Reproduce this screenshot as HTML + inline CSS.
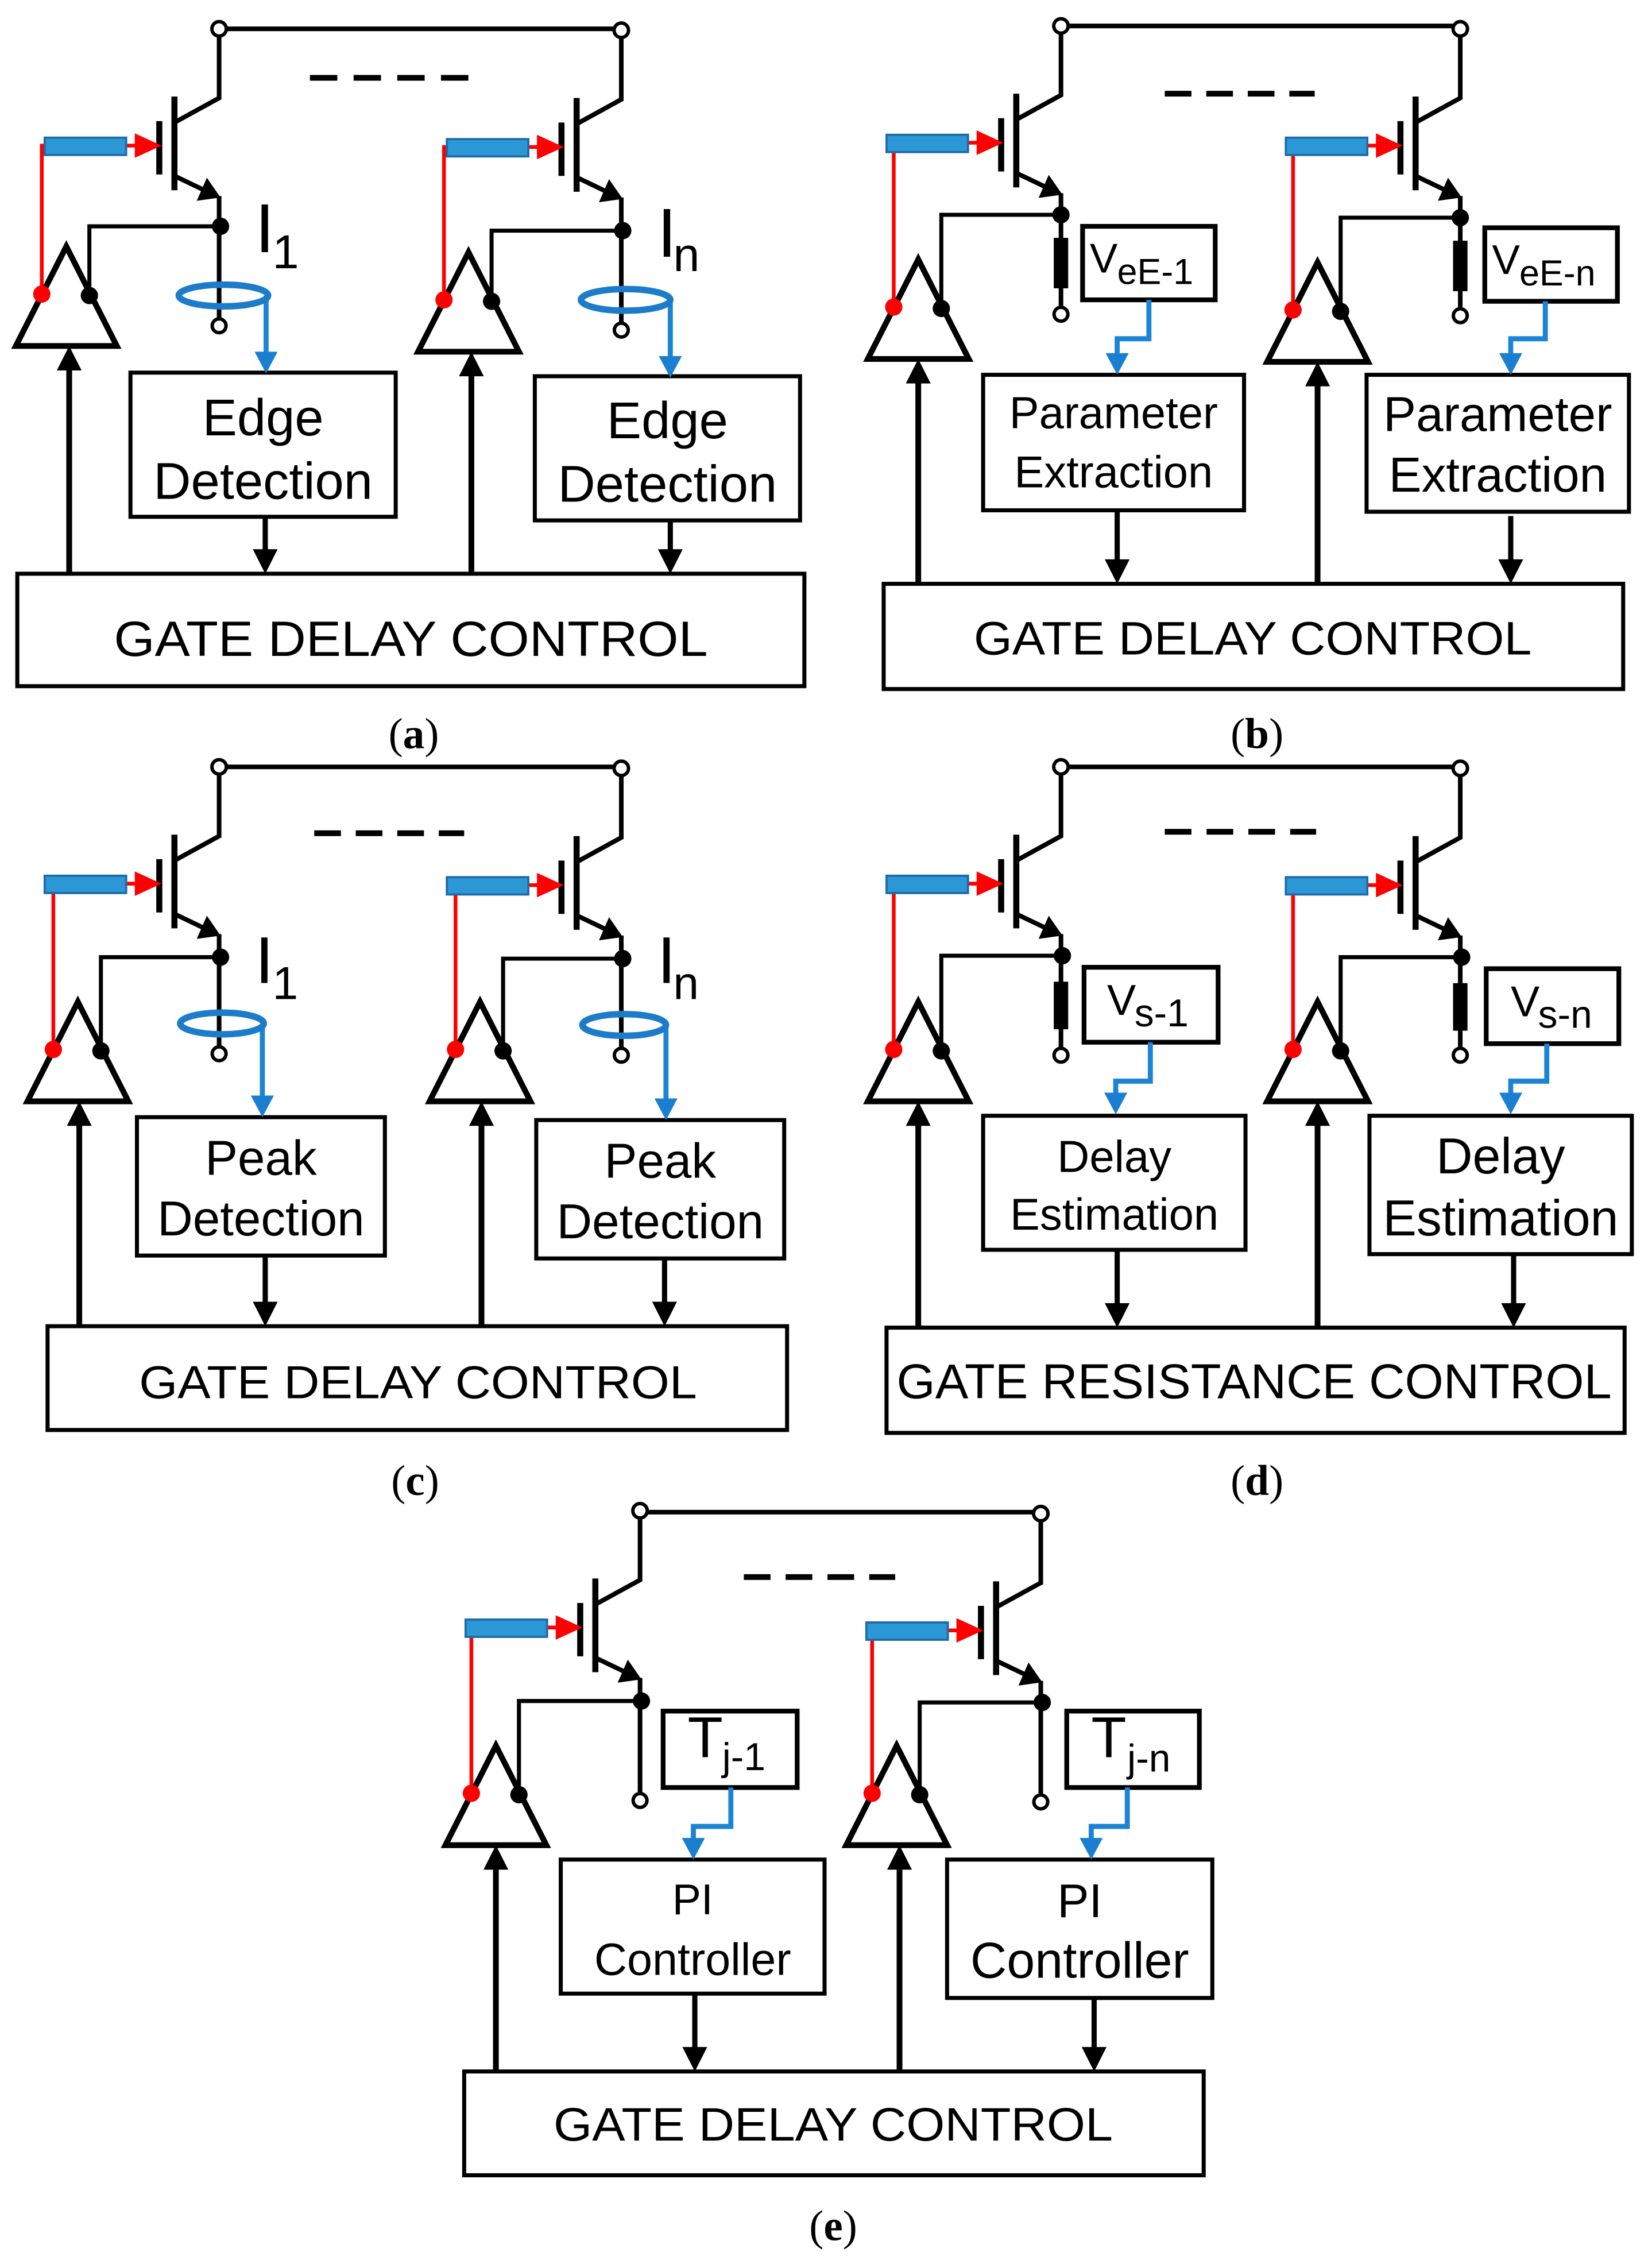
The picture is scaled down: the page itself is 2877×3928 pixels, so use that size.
<!DOCTYPE html>
<html><head><meta charset="utf-8"><style>
html,body{margin:0;padding:0;background:#fff;}
svg{display:block;}
text{font-family:"Liberation Sans",Arial,sans-serif;fill:#000;}
.cap{font-family:"Liberation Serif","Times New Roman",serif;font-size:30px;}
</style></head><body>
<svg width="2877" height="3928" viewBox="0 0 1146 1565" preserveAspectRatio="none" xmlns="http://www.w3.org/2000/svg">
<defs>
<g id="tr">
 <path d="M0,5 V48 L-31,65" fill="none" stroke="#000" stroke-width="3.2"/>
 <line x1="-31" y1="47" x2="-31" y2="112" stroke="#000" stroke-width="4.2"/>
 <line x1="-41.5" y1="64" x2="-41.5" y2="101" stroke="#000" stroke-width="4.2"/>
 <path d="M-31,102 L-8,113" stroke="#000" stroke-width="3.2"/>
 <polygon points="1,117 -8.5,103.3 -15.5,119.3" fill="#000"/>
 <line x1="-66" y1="81" x2="-56" y2="81" stroke="#f00" stroke-width="2.6"/>
 <polygon points="-40,81 -58.5,72.5 -58.5,89.5" fill="#f00"/>
 <rect x="-121" y="75.5" width="56.5" height="12" fill="#2b98d5" stroke="#1e6aa8" stroke-width="1.5"/>
 <circle cx="0" cy="0" r="5" fill="#fff" stroke="#000" stroke-width="2.4"/>
</g>
<g id="tri">
 <polygon points="0,0 -35,69 35,69" fill="#fff" stroke="#000" stroke-width="4"/>
 <circle cx="-17" cy="33" r="6" fill="#f00"/>
 <circle cx="16" cy="34" r="6" fill="#000"/>
</g>
<path id="ad" d="M0,0 L-8.6,-17 L8.6,-17Z" fill="#000"/>
<path id="au" d="M0,0 L-8.6,17 L8.6,17Z" fill="#000"/>
<path id="bd" d="M0,0 L-8,-15 L8,-15Z" fill="#1a7fd0"/>
<circle id="oc" r="4.8" fill="#fff" stroke="#000" stroke-width="2.4"/>
<circle id="nd" r="6" fill="#000"/>
</defs>

<g fill="none" stroke-linecap="butt">
<path d="M152,20 H431" stroke="#000" stroke-width="3.2"/>
<path d="M215,54 H325" stroke="#000" stroke-width="4" stroke-dasharray="19 11.3"/>
<path d="M152,136 V221" stroke="#000" stroke-width="3.2"/>
<path d="M62,205 V157 H152" stroke="#000" stroke-width="2.8"/>
<path d="M29,204 V101 H31" stroke="#f00" stroke-width="2.6"/>
<path d="M184.6,205 V246" stroke="#1c84d4" stroke-width="3.5"/>
<rect x="90.5" y="258.5" width="184" height="100" stroke="#000" stroke-width="2.8"/>
<path d="M184,358 V384" stroke="#000" stroke-width="3.6"/>
<path d="M48,398 V254" stroke="#000" stroke-width="4"/>
<path d="M431,137 V224" stroke="#000" stroke-width="3.2"/>
<path d="M341,208 V160 H431" stroke="#000" stroke-width="2.8"/>
<path d="M308,207 V102 H310" stroke="#f00" stroke-width="2.6"/>
<path d="M465,208 V249" stroke="#1c84d4" stroke-width="3.5"/>
<rect x="371" y="261" width="184" height="100" stroke="#000" stroke-width="2.8"/>
<path d="M465,361 V384" stroke="#000" stroke-width="3.6"/>
<path d="M327,398 V258" stroke="#000" stroke-width="4"/>
<rect x="12" y="398" width="546" height="78" stroke="#000" stroke-width="2.8"/>

<path d="M736,18 H1013" stroke="#000" stroke-width="3.2"/>
<path d="M808,65 H912" stroke="#000" stroke-width="4" stroke-dasharray="18.5 10.3"/>
<path d="M736,134 V213" stroke="#000" stroke-width="3.2"/>
<path d="M653,214 V149 H736" stroke="#000" stroke-width="2.8"/>
<path d="M620,213 V99 H617" stroke="#f00" stroke-width="2.6"/>
<rect x="751" y="157" width="92" height="51" stroke="#000" stroke-width="3.3"/>
<path d="M797,208 V235 H775 V247" stroke="#1c84d4" stroke-width="3.5"/>
<rect x="682" y="260" width="181" height="94" stroke="#000" stroke-width="2.8"/>
<path d="M775,354 V391" stroke="#000" stroke-width="3.6"/>
<path d="M637,405 V263" stroke="#000" stroke-width="4"/>
<path d="M1013,136 V214" stroke="#000" stroke-width="3.2"/>
<path d="M930,216 V151 H1013" stroke="#000" stroke-width="2.8"/>
<path d="M897,215 V101 H892" stroke="#f00" stroke-width="2.6"/>
<rect x="1030" y="158" width="92" height="51" stroke="#000" stroke-width="3.3"/>
<path d="M1072,209 V235 H1048 V247" stroke="#1c84d4" stroke-width="3.5"/>
<rect x="948" y="260" width="182" height="95" stroke="#000" stroke-width="2.8"/>
<path d="M1048,358 V391" stroke="#000" stroke-width="3.6"/>
<path d="M914,405 V265" stroke="#000" stroke-width="4"/>
<rect x="613" y="405" width="513" height="73" stroke="#000" stroke-width="2.8"/>

<path d="M152,532 H431" stroke="#000" stroke-width="3.2"/>
<path d="M218,578 H322" stroke="#000" stroke-width="4" stroke-dasharray="18.5 10.3"/>
<path d="M152,648 V726" stroke="#000" stroke-width="3.2"/>
<path d="M70,729 V664 H152" stroke="#000" stroke-width="2.8"/>
<path d="M37,728 V613 H31" stroke="#f00" stroke-width="2.6"/>
<path d="M182,711 V761" stroke="#1c84d4" stroke-width="3.5"/>
<rect x="95" y="775" width="172" height="96" stroke="#000" stroke-width="2.8"/>
<path d="M184,871 V906" stroke="#000" stroke-width="3.6"/>
<path d="M55,920 V780" stroke="#000" stroke-width="4"/>
<path d="M431,649 V727" stroke="#000" stroke-width="3.2"/>
<path d="M349,729 V665 H431" stroke="#000" stroke-width="2.8"/>
<path d="M316,728 V614 H310" stroke="#f00" stroke-width="2.6"/>
<path d="M462,712 V763" stroke="#1c84d4" stroke-width="3.5"/>
<rect x="372" y="777" width="172" height="96" stroke="#000" stroke-width="2.8"/>
<path d="M461,873 V906" stroke="#000" stroke-width="3.6"/>
<path d="M334,920 V780" stroke="#000" stroke-width="4"/>
<rect x="33" y="920" width="513" height="72" stroke="#000" stroke-width="2.8"/>

<path d="M736,532 H1013" stroke="#000" stroke-width="3.2"/>
<path d="M808,577 H913" stroke="#000" stroke-width="4" stroke-dasharray="18.5 10.5"/>
<path d="M736,648 V727" stroke="#000" stroke-width="3.2"/>
<path d="M653,729 V663 H736" stroke="#000" stroke-width="2.8"/>
<path d="M620,728 V613 H617" stroke="#f00" stroke-width="2.6"/>
<rect x="752" y="671" width="93" height="52" stroke="#000" stroke-width="3.3"/>
<path d="M798,723 V750 H774 V760" stroke="#1c84d4" stroke-width="3.5"/>
<rect x="682" y="774" width="182" height="93" stroke="#000" stroke-width="2.8"/>
<path d="M775,867 V907" stroke="#000" stroke-width="3.6"/>
<path d="M637,921 V780" stroke="#000" stroke-width="4"/>
<path d="M1013,649 V727" stroke="#000" stroke-width="3.2"/>
<path d="M930,729 V664 H1013" stroke="#000" stroke-width="2.8"/>
<path d="M897,728 V614 H892" stroke="#f00" stroke-width="2.6"/>
<rect x="1031" y="672" width="92" height="52" stroke="#000" stroke-width="3.3"/>
<path d="M1073,724 V750 H1048 V760" stroke="#1c84d4" stroke-width="3.5"/>
<rect x="950" y="774" width="182" height="96" stroke="#000" stroke-width="2.8"/>
<path d="M1050,870 V907" stroke="#000" stroke-width="3.6"/>
<path d="M914,921 V780" stroke="#000" stroke-width="4"/>
<rect x="615" y="921" width="512" height="73" stroke="#000" stroke-width="2.8"/>

<path d="M444,1049 H722" stroke="#000" stroke-width="3.2"/>
<path d="M516,1094 H621" stroke="#000" stroke-width="4" stroke-dasharray="18.5 10.5"/>
<path d="M444,1164 V1244" stroke="#000" stroke-width="3.2"/>
<path d="M360,1245 V1180 H444" stroke="#000" stroke-width="2.8"/>
<path d="M327,1244 V1129 H323" stroke="#f00" stroke-width="2.6"/>
<rect x="460" y="1187" width="93" height="53" stroke="#000" stroke-width="3.3"/>
<path d="M507,1240 V1267 H481 V1277" stroke="#1c84d4" stroke-width="3.5"/>
<rect x="389" y="1290" width="183" height="93" stroke="#000" stroke-width="2.8"/>
<path d="M482,1383 V1423" stroke="#000" stroke-width="3.6"/>
<path d="M344,1437 V1297" stroke="#000" stroke-width="4"/>
<path d="M722,1166 V1245" stroke="#000" stroke-width="3.2"/>
<path d="M638,1245 V1181 H722" stroke="#000" stroke-width="2.8"/>
<path d="M605,1244 V1131 H601" stroke="#f00" stroke-width="2.6"/>
<rect x="740" y="1187" width="92" height="53" stroke="#000" stroke-width="3.3"/>
<path d="M782,1240 V1267 H757 V1277" stroke="#1c84d4" stroke-width="3.5"/>
<rect x="657" y="1290" width="184" height="96" stroke="#000" stroke-width="2.8"/>
<path d="M759,1386 V1423" stroke="#000" stroke-width="3.6"/>
<path d="M624,1437 V1297" stroke="#000" stroke-width="4"/>
<rect x="322" y="1437" width="513" height="72" stroke="#000" stroke-width="2.8"/>
</g>

<use href="#tr" x="152" y="20"/><use href="#tr" x="431" y="21"/>
<use href="#tr" x="736" y="18"/><use href="#tr" x="1013" y="20"/>
<use href="#tr" x="152" y="532"/><use href="#tr" x="431" y="533"/>
<use href="#tr" x="736" y="532"/><use href="#tr" x="1013" y="533"/>
<use href="#tr" x="444" y="1048"/><use href="#tr" x="722" y="1050"/>

<use href="#tri" x="46" y="171"/><use href="#tri" x="325" y="175"/>
<use href="#tri" x="637" y="180"/><use href="#tri" x="914" y="182"/>
<use href="#tri" x="54" y="695"/><use href="#tri" x="333" y="695"/>
<use href="#tri" x="637" y="695"/><use href="#tri" x="914" y="695"/>
<use href="#tri" x="344" y="1211"/><use href="#tri" x="622" y="1211"/>

<use href="#nd" x="153" y="157"/><use href="#oc" x="152" y="226"/>
<use href="#nd" x="432" y="160"/><use href="#oc" x="431" y="229"/>
<use href="#nd" x="736" y="149"/><use href="#oc" x="736" y="218"/>
<use href="#nd" x="1013" y="151"/><use href="#oc" x="1013" y="219"/>
<use href="#nd" x="153" y="664"/><use href="#oc" x="152" y="731"/>
<use href="#nd" x="432" y="665"/><use href="#oc" x="431" y="732"/>
<use href="#nd" x="737" y="663"/><use href="#oc" x="736" y="732"/>
<use href="#nd" x="1014" y="664"/><use href="#oc" x="1013" y="732"/>
<use href="#nd" x="445" y="1180"/><use href="#oc" x="444" y="1249"/>
<use href="#nd" x="723" y="1181"/><use href="#oc" x="722" y="1250"/>

<rect x="731" y="165" width="10" height="35" fill="#000"/>
<rect x="1008" y="167" width="10" height="35" fill="#000"/>
<rect x="731" y="681" width="10" height="33" fill="#000"/>
<rect x="1008" y="682" width="10" height="33" fill="#000"/>

<g fill="none" stroke="#1c7cc9" stroke-width="4.5">
<ellipse cx="155" cy="205" rx="31" ry="7.5"/>
<ellipse cx="434" cy="208" rx="31" ry="7.5"/>
<ellipse cx="154" cy="710" rx="29" ry="7.5"/>
<ellipse cx="433" cy="711" rx="29" ry="7.5"/>
</g>

<use href="#bd" x="184.6" y="259"/><use href="#bd" x="465" y="262"/>
<use href="#bd" x="775" y="260"/><use href="#bd" x="1048" y="260"/>
<use href="#bd" x="182" y="775"/><use href="#bd" x="462" y="777"/>
<use href="#bd" x="774" y="773"/><use href="#bd" x="1048" y="773"/>
<use href="#bd" x="481" y="1290"/><use href="#bd" x="757" y="1290"/>

<use href="#ad" x="184" y="398"/><use href="#ad" x="465" y="398"/>
<use href="#ad" x="775" y="405"/><use href="#ad" x="1048" y="405"/>
<use href="#ad" x="184" y="920"/><use href="#ad" x="461" y="920"/>
<use href="#ad" x="775" y="921"/><use href="#ad" x="1050" y="921"/>
<use href="#ad" x="482" y="1437"/><use href="#ad" x="759" y="1437"/>

<use href="#au" x="48" y="240"/><use href="#au" x="327" y="244"/>
<use href="#au" x="637" y="249"/><use href="#au" x="914" y="251"/>
<use href="#au" x="55" y="764"/><use href="#au" x="334" y="764"/>
<use href="#au" x="637" y="764"/><use href="#au" x="914" y="764"/>
<use href="#au" x="344" y="1280"/><use href="#au" x="624" y="1280"/>

<text x="177" y="175" font-size="48">I</text><text x="189" y="186" font-size="33">1</text>
<text x="456" y="178" font-size="48">I</text><text x="467" y="188" font-size="33">n</text>
<text x="182.5" y="302" font-size="36" text-anchor="middle">Edge</text>
<text x="182.5" y="346" font-size="36" text-anchor="middle">Detection</text>
<text x="463" y="304" font-size="36" text-anchor="middle">Edge</text>
<text x="463" y="348" font-size="36" text-anchor="middle">Detection</text>
<text x="285" y="455" font-size="34.5" text-anchor="middle" textLength="412" lengthAdjust="spacingAndGlyphs">GATE DELAY CONTROL</text>
<text class="cap" x="287" y="519" text-anchor="middle">(<tspan font-weight="bold">a</tspan>)</text>

<text x="756" y="189" font-size="29">V</text><text x="775" y="197" font-size="25">eE-1</text>
<text x="1035" y="190" font-size="29">V</text><text x="1054" y="198" font-size="25">eE-n</text>
<text x="772.5" y="297" font-size="31" text-anchor="middle">Parameter</text>
<text x="772.5" y="338" font-size="31" text-anchor="middle">Extraction</text>
<text x="1039" y="299" font-size="34" text-anchor="middle">Parameter</text>
<text x="1039" y="341" font-size="34" text-anchor="middle">Extraction</text>
<text x="869" y="454" font-size="32.4" text-anchor="middle" textLength="387" lengthAdjust="spacingAndGlyphs">GATE DELAY CONTROL</text>
<text class="cap" x="872" y="519" text-anchor="middle">(<tspan font-weight="bold">b</tspan>)</text>

<text x="177" y="682" font-size="46">I</text><text x="189" y="693" font-size="32">1</text>
<text x="456" y="682" font-size="46">I</text><text x="467" y="693" font-size="32">n</text>
<text x="181" y="815" font-size="34" text-anchor="middle">Peak</text>
<text x="181" y="857" font-size="34" text-anchor="middle">Detection</text>
<text x="458" y="817" font-size="34" text-anchor="middle">Peak</text>
<text x="458" y="859" font-size="34" text-anchor="middle">Detection</text>
<text x="290" y="970" font-size="32.3" text-anchor="middle" textLength="387" lengthAdjust="spacingAndGlyphs">GATE DELAY CONTROL</text>
<text class="cap" x="288" y="1037" text-anchor="middle">(<tspan font-weight="bold">c</tspan>)</text>

<text x="768" y="704" font-size="30">V</text><text x="787" y="712" font-size="27">s-1</text>
<text x="1048" y="705" font-size="30">V</text><text x="1067" y="713" font-size="27">s-n</text>
<text x="773" y="813" font-size="31" text-anchor="middle">Delay</text>
<text x="773" y="853" font-size="31" text-anchor="middle">Estimation</text>
<text x="1041" y="814" font-size="35" text-anchor="middle">Delay</text>
<text x="1041" y="857" font-size="35" text-anchor="middle">Estimation</text>
<text x="870" y="970" font-size="34" text-anchor="middle" textLength="496" lengthAdjust="spacingAndGlyphs">GATE RESISTANCE CONTROL</text>
<text class="cap" x="872" y="1037" text-anchor="middle">(<tspan font-weight="bold">d</tspan>)</text>

<text x="477" y="1219" font-size="40">T</text><text x="501" y="1228" font-size="27">j-1</text>
<text x="757" y="1219" font-size="40">T</text><text x="782" y="1229" font-size="27">j-n</text>
<text x="480.5" y="1328" font-size="30" text-anchor="middle">PI</text>
<text x="480.5" y="1370" font-size="31.5" text-anchor="middle">Controller</text>
<text x="749" y="1330" font-size="33" text-anchor="middle">PI</text>
<text x="749" y="1372" font-size="35" text-anchor="middle">Controller</text>
<text x="578" y="1485" font-size="32.7" text-anchor="middle" textLength="388" lengthAdjust="spacingAndGlyphs">GATE DELAY CONTROL</text>
<text class="cap" x="578" y="1554" text-anchor="middle">(<tspan font-weight="bold">e</tspan>)</text>
</svg>
</body></html>
